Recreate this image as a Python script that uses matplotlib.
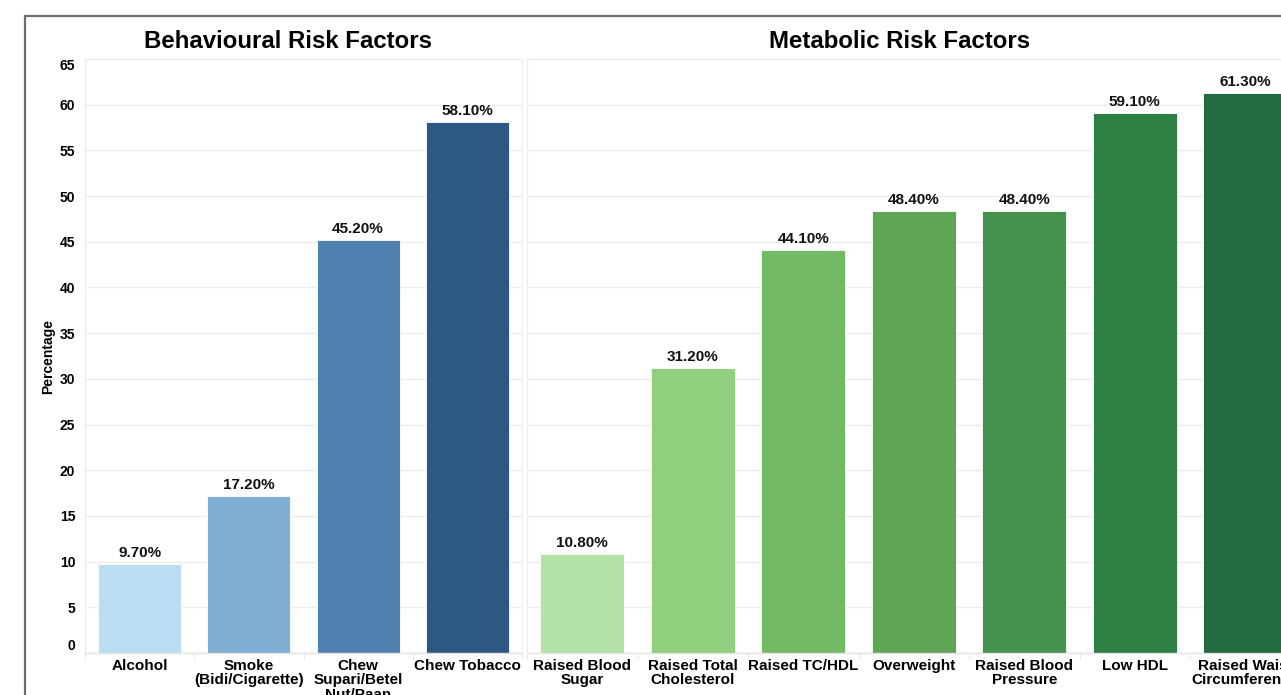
import matplotlib
matplotlib.use("Agg")
import matplotlib.pyplot as plt
from matplotlib.patches import Rectangle

plt.rcParams['font.family'] = ['Liberation Sans', 'DejaVu Sans']
plt.rcParams['font.weight'] = 'bold'

# Behavioural risk factors
beh_labels = ["Alcohol", "Smoke\n(Bidi/Cigarette)", "Chew\nSupari/Betel\nNut/Paan", "Chew Tobacco"]
beh_values = [9.7, 17.2, 45.2, 58.1]
beh_colors = ["#BADEF1", "#80AED5", "#5181B1", "#2D5884"]

# Metabolic risk factors
met_labels = ["Raised Blood\nSugar", "Raised Total\nCholesterol", "Raised TC/HDL", "Overweight",
              "Raised Blood\nPressure", "Low HDL", "Raised Waist\nCircumference"]
met_values = [10.8, 31.2, 44.1, 48.4, 48.4, 59.1, 61.3]
met_colors = ["#B4E1A6", "#8FCF7E", "#72BA64", "#5EA653", "#45924F", "#2E7F43", "#236A3F"]

y_ticks = list(range(0, 70, 5))

W, H = 1281, 695
fig = plt.figure(figsize=(W / 100, H / 100), dpi=100)

# outer frame (runs past the right and bottom edges)
fig.patches.append(Rectangle((25 / W, -0.1), 2.0, 1 - 16 / H + 0.1, transform=fig.transFigure,
                             fill=False, edgecolor="#6E6E6E", linewidth=1.6))

bottom = 1 - 653 / H
height = (653 - 59) / H
ax1 = fig.add_axes([85 / W, bottom, 437 / W, height])
ax2 = fig.add_axes([527 / W, bottom, 773.5 / W, height])

grid_c = "#EDEDED"


def draw_panel(ax, labels, values, colors, show_y):
    x = list(range(len(values)))
    ax.bar(x, values, width=0.76, color=colors, edgecolor="white", linewidth=0.6, zorder=2)
    for xi, v in zip(x, values):
        ax.text(xi, v + 0.45, f"{v:.2f}%", ha="center", va="bottom", fontsize=11,
                fontweight="bold", color="#111111", zorder=3)
    ax.set_xlim(-0.5, len(values) - 0.5)
    ax.set_ylim(0, 65)
    ax.set_yticks(y_ticks)
    ax.yaxis.grid(True, color=grid_c, linewidth=1.0, zorder=0)
    ax.set_axisbelow(True)
    for s in ["top", "right"]:
        ax.spines[s].set_visible(False)
    ax.spines["left"].set_color(grid_c)
    ax.spines["bottom"].set_color("#E4E4E4")
    ax.spines["left"].set_linewidth(1.0)
    ax.spines["bottom"].set_linewidth(1.0)
    ax.set_xticks(x)
    ax.set_xticklabels(labels, fontsize=11, fontweight="bold", linespacing=1.08)
    ax.tick_params(axis="x", length=0, pad=4)
    ax.set_xticks([i - 0.5 for i in range(len(values) + 1)], minor=True)
    ax.tick_params(axis="x", which="minor", length=4, color="#E4E4E4")
    if show_y:
        ax.tick_params(axis="y", length=0, pad=7, labelsize=10)
        tl = ax.get_yticklabels()
        for t in tl:
            t.set_fontweight("bold")
        tl[0].set_va("bottom")
        tl[-1].set_va("top")
    else:
        ax.tick_params(axis="y", length=0, labelleft=False)


draw_panel(ax1, beh_labels, beh_values, beh_colors, True)
draw_panel(ax2, met_labels, met_values, met_colors, False)
ax2.spines["right"].set_visible(False)

# right edge line of left panel
ax1.spines["right"].set_visible(True)
ax1.spines["right"].set_color(grid_c)

ax1.set_ylabel("Percentage", fontsize=10, fontweight="bold")
ax1.yaxis.set_label_coords(-37 / 437, 0.5)
ax1.yaxis.label.set_va("center")

fig.text(288 / W, 1 - 41 / H, "Behavioural Risk Factors", ha="center", va="center",
         fontsize=17.3, fontweight="bold")
fig.text(900 / W, 1 - 41 / H, "Metabolic Risk Factors", ha="center", va="center",
         fontsize=17.3, fontweight="bold")

fig.savefig("out.png", dpi=100)
